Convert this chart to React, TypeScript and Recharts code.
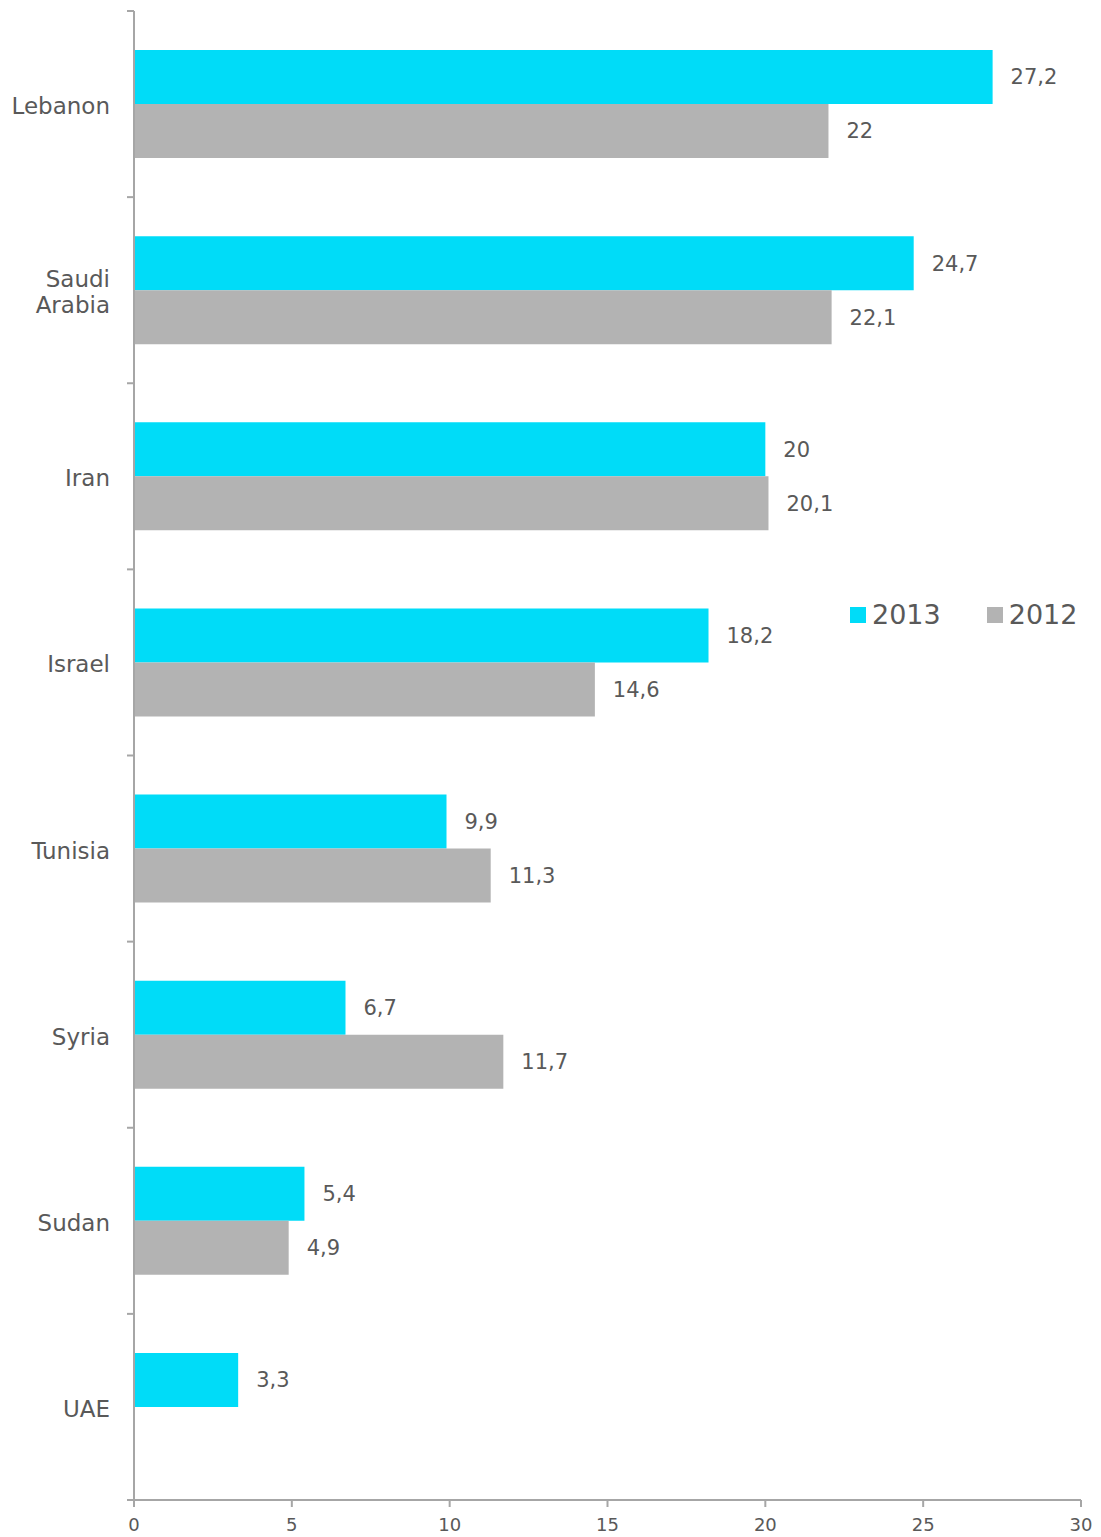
import React from 'react';
import { BarChart, Bar, XAxis, YAxis, LabelList } from 'recharts';

const countries = ['Lebanon', 'Saudi Arabia', 'Iran', 'Israel', 'Tunisia', 'Syria', 'Sudan', 'UAE'];
const values2013 = [27.2, 24.7, 20, 18.2, 9.9, 6.7, 5.4, 3.3];
const values2012: (number | null)[] = [22, 22.1, 20.1, 14.6, 11.3, 11.7, 4.9, null];
const xTicks = [0, 5, 10, 15, 20, 25, 30];

const series = [
  { key: 'y2013', name: '2013', color: '#00DCF8' },
  { key: 'y2012', name: '2012', color: '#B3B3B3' },
];

const data = countries.map((c, i) => ({
  country: c,
  y2013: values2013[i],
  y2012: values2012[i],
}));

const TEXT = '#595959';
const AXIS = '#A6A6A6';
const FONT = '"DejaVu Sans", Verdana, sans-serif';
const TICK_SIZE = 7;
const TICK_MARGIN = 17;

const fmt = (v: any) => (v == null ? '' : String(v).replace('.', ','));

// category label + Excel-style tick marks on the band edges
const CountryTick = (props: any) => {
  const { x, y, payload, index } = props;
  const words = String(payload.value).split(' ');
  const lh = 26;
  const start = 2 - ((words.length - 1) * lh) / 2;
  const half = payload.offset || 0;
  const ax = x + TICK_MARGIN + TICK_SIZE;
  const isLast = index === countries.length - 1;
  return (
    <g>
      <line x1={ax - TICK_SIZE} x2={ax} y1={y - half} y2={y - half} stroke={AXIS} strokeWidth={2} />
      {isLast && (
        <line x1={ax - TICK_SIZE} x2={ax} y1={y + half} y2={y + half} stroke={AXIS} strokeWidth={2} />
      )}
      <text x={x} y={y} textAnchor="end" fill={TEXT} fontSize={23} fontFamily={FONT}>
        {words.map((w, i) => (
          <tspan key={i} x={x} dy={i === 0 ? start : lh} dominantBaseline="central">
            {w}
          </tspan>
        ))}
      </text>
    </g>
  );
};

const XTick = (props: any) => {
  const { x, y, payload } = props;
  return (
    <text x={x} y={y} dy={20} textAnchor="middle" fill={TEXT} fontSize={18} fontFamily={FONT}>
      {payload.value}
    </text>
  );
};

export default function App() {
  return (
    <div style={{ position: 'absolute', left: 0, top: 0, width: 1101, height: 1537, fontFamily: FONT }}>
      <BarChart
        width={1101}
        height={1537}
        data={data}
        layout="vertical"
        barGap={0}
        margin={{ top: 11, right: 20, bottom: 0, left: 0 }}
      >
        <YAxis
          type="category"
          dataKey="country"
          width={134}
          axisLine={{ stroke: AXIS, strokeWidth: 2 }}
          tickLine={false}
          tickSize={TICK_SIZE}
          tickMargin={TICK_MARGIN}
          interval={0}
          tick={<CountryTick />}
        />
        <XAxis
          type="number"
          domain={[0, 30]}
          ticks={xTicks}
          height={37}
          tickSize={7}
          tickMargin={4}
          axisLine={{ stroke: AXIS, strokeWidth: 2 }}
          tickLine={{ stroke: AXIS, strokeWidth: 2 }}
          tick={<XTick />}
        />
        {series.map((s) => (
          <Bar
            key={s.key}
            dataKey={s.key}
            name={s.name}
            fill={s.color}
            barSize={54}
            isAnimationActive={false}
          >
            <LabelList
              dataKey={s.key}
              position="right"
              offset={18}
              formatter={fmt}
              fill={TEXT}
              fontSize={21}
              fontFamily={FONT}
            />
          </Bar>
        ))}
      </BarChart>
      <div
        style={{
          position: 'absolute',
          left: 850,
          top: 598,
          display: 'flex',
          alignItems: 'center',
          fontSize: 27,
          color: TEXT,
          lineHeight: '34px',
        }}
      >
        {series.map((s, i) => (
          <div key={s.key} style={{ display: 'flex', alignItems: 'center', marginLeft: i === 0 ? 0 : 46 }}>
            <span style={{ display: 'inline-block', width: 16, height: 16, background: s.color, marginRight: 6 }} />
            <span>{s.name}</span>
          </div>
        ))}
      </div>
    </div>
  );
}
